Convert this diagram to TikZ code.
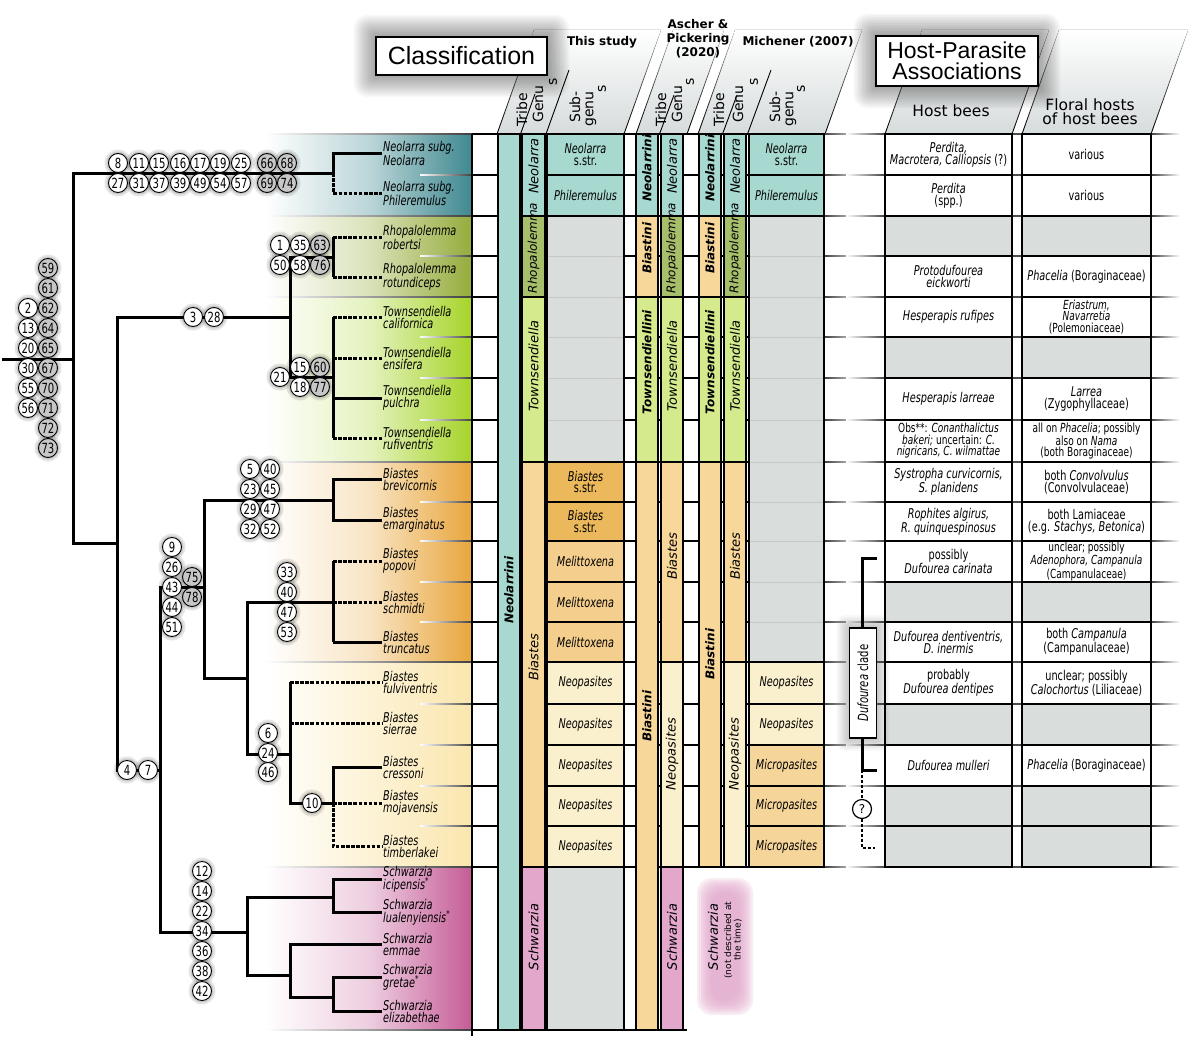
\documentclass[tikz,border=0pt]{standalone}
\usepackage{fontspec}
\setmainfont{DejaVu Sans}
\newfontfamily\cond[FakeStretch=0.72]{DejaVu Sans}
\newfontfamily\arialf{Liberation Sans}
\usetikzlibrary{fadings}
\definecolor{tealC}{HTML}{A8D9D0}
\definecolor{rhoC}{HTML}{A7BE6B}
\definecolor{towC}{HTML}{D4EA8C}
\definecolor{biaC}{HTML}{F7D79A}
\definecolor{bssC}{HTML}{EBB85C}
\definecolor{melC}{HTML}{F4CE8D}
\definecolor{neoC}{HTML}{FBF0CD}
\definecolor{micC}{HTML}{F6D59A}
\definecolor{schC}{HTML}{E2A7CB}
\definecolor{grayC}{HTML}{D9DDDC}
\definecolor{tealB}{HTML}{3F8990}
\definecolor{rhoB}{HTML}{95AC3C}
\definecolor{towB}{HTML}{A6D42A}
\definecolor{biaB}{HTML}{E8A63C}
\definecolor{neoB}{HTML}{FAE6AE}
\definecolor{schB}{HTML}{C55C97}
\definecolor{hdrG}{HTML}{D6DBDB}
\tikzset{
  br/.style={line width=3pt},
  dbr/.style={line width=3pt, dash pattern=on 3.5pt off 1.6pt},
  cw/.style={circle, draw=black, line width=0.9pt, fill=white, minimum size=19pt, inner sep=0pt, font=\cond\fontsize{14}{12}\selectfont},
  cg/.style={cw, fill=black!22},
  sp/.style={anchor=west, inner sep=1pt, align=left, font=\cond\itshape\fontsize{13.5}{12}\selectfont},
  cell/.style={draw=black, line width=1.5pt},
  vt/.style={rotate=90, font=\itshape\fontsize{13}{13}\selectfont, inner sep=0pt},
  vts/.style={vt, font=\itshape\fontsize{12}{12}\selectfont},
  vtb/.style={rotate=90, font=\bfseries\itshape\fontsize{12}{12}\selectfont, inner sep=0pt},
  sg/.style={font=\cond\itshape\fontsize{13.5}{11.5}\selectfont, align=center, inner sep=0pt},
  hc/.style={font=\cond\fontsize{13.5}{12}\selectfont, align=center, inner sep=0pt},
  hs/.style={font=\cond\fontsize{12.5}{11.5}\selectfont, align=center, inner sep=0pt},
  hh/.style={rotate=90, font=\fontsize{14}{13}\selectfont, inner sep=0pt},
  ttl/.style={font=\bfseries\fontsize{12}{14}\selectfont, align=center, inner sep=0pt},
  rowline/.style={line width=1.5pt},
  fadeE/.style={left color=black!75, right color=white},
  fadeW/.style={left color=white, right color=black!75},
  slant/.style={line width=0.9pt},
  tbox/.style={draw=black, line width=1.3pt, fill=white, inner sep=0pt},
}
\newcommand\glowrect[5]{%
  \foreach \g in {1,...,#5}
    \fill[black, opacity=0.028, rounded corners=\g pt] (#1-\g*1.6,#2-\g*1.6) rectangle (#3+\g*1.6,#4+\g*1.6);}
\def\circs{118/163/8/cw,139/163/11/cw,159/163/15/cw,180/163/16/cw,200/163/17/cw,220/163/19/cw,241/163/25/cw,267/163/66/cg,287/163/68/cg,
118/183/27/cw,139/183/31/cw,159/183/37/cw,180/183/39/cw,200/183/49/cw,220/183/54/cw,241/183/57/cw,267/183/69/cg,287/183/74/cg,
28/308/2/cw,28/328/13/cw,28/348/20/cw,28/368/30/cw,28/388/55/cw,28/408/56/cw,
48/268/59/cg,48/288/61/cg,48/308/62/cg,48/328/64/cg,48/348/65/cg,48/368/67/cg,48/388/70/cg,48/408/71/cg,48/428/72/cg,48/448/73/cg,
193/317/3/cw,214/317/28/cw,
280/245/1/cw,300/245/35/cw,320/245/63/cg,280/265/50/cw,300/265/58/cw,320/265/76/cg,
280/377/21/cw,300/367/15/cw,320/367/60/cg,300/387/18/cw,320/387/77/cg,
127/770/4/cw,148/770/7/cw,
172/547/9/cw,172/567/26/cw,172/587/43/cw,172/607/44/cw,172/627/51/cw,192/577/75/cg,192/597/78/cg,
250/469/5/cw,270/469/40/cw,250/489/23/cw,270/489/45/cw,250/509/29/cw,270/509/47/cw,250/529/32/cw,270/529/52/cw,
287/572/33/cw,287/592/40/cw,287/612/47/cw,287/632/53/cw,
268/733/6/cw,268/753/24/cw,268/772/46/cw,
312/803/10/cw,
202/871/12/cw,202/891/14/cw,202/911/22/cw,202/931/34/cw,202/951/36/cw,202/971/38/cw,202/991/42/cw}
\begin{document}
\begin{tikzpicture}[x=1pt,y=-1pt]
\useasboundingbox (0,0) rectangle (1193,1046);
\fill[white] (0,0) rectangle (1193,1046);

% ---------- header parallelograms ----------
\fill[top color=white, bottom color=hdrG] (497,134) -- (624,134) -- (661,30) -- (534,30) -- cycle;
\fill[top color=white, bottom color=hdrG] (636,134) -- (687,134) -- (724,30) -- (673,30) -- cycle;
\fill[top color=white, bottom color=hdrG] (698,134) -- (825,134) -- (862,30) -- (735,30) -- cycle;
\fill[top color=white, bottom color=hdrG] (885,134) -- (1012,134) -- (1049,30) -- (922,30) -- cycle;
\fill[top color=white, bottom color=hdrG] (1022,134) -- (1151,134) -- (1188,30) -- (1059,30) -- cycle;
\foreach \a/\b in {497/534,624/661,636/673,687/724,698/735,825/862,885/922,1012/1049,1022/1059,1151/1188}
  \draw[slant, path fading=north] (\a,134) -- (\b,30);
\draw[slant] (520.5,134) -- (535,94);
\draw[slant] (546,134) -- (569,70);
\draw[slant] (659.5,134) -- (674,95);
\draw[slant] (722.5,134) -- (737,95);
\draw[slant] (747.5,134) -- (771,70);

% ---------- title boxes ----------
\glowrect{376}{37}{547}{75}{14}
\glowrect{876}{36}{1038}{86}{14}
\node[tbox, minimum width=171pt, minimum height=38pt, font=\arialf\fontsize{25}{25}\selectfont] (cls) at (461.5,56) {Classification};
\node[tbox, minimum width=162pt, minimum height=50pt, align=center, font=\arialf\fontsize{23}{21}\selectfont] (hpa) at (957,61) {Host-Parasite\\Associations};
\node[ttl] (tThis) at (602,42) {This study};
\node[ttl] (tAsch) at (698,39) {Ascher \&\\Pickering\\(2020)};
\node[ttl] (tMich) at (798,42) {Michener (2007)};

\node[hh] (hT1) at (522,110) {Tribe};
\node[hh] (hG1) at (538,104) {Genu};
\node[hh] (hG1s) at (553,82) {s};
\node[hh] (hS1) at (575,107) {Sub-};
\node[hh] (hS1b) at (591,109) {genu};
\node[hh] (hS1s) at (602,89) {s};
\node[hh] (hT2) at (661,110) {Tribe};
\node[hh] (hG2) at (677,104) {Genu};
\node[hh] (hG2s) at (690,82) {s};
\node[hh] (hT3) at (719,110) {Tribe};
\node[hh] (hG3) at (738,104) {Genu};
\node[hh] (hG3s) at (754,82) {s};
\node[hh] (hS3) at (775,107) {Sub-};
\node[hh] (hS3b) at (791,109) {genu};
\node[hh] (hS3s) at (801,89) {s};
\node[font=\fontsize{15.5}{15}\selectfont, inner sep=0pt] (hHost) at (951,111) {Host bees};
\node[font=\fontsize{15.5}{14}\selectfont, align=center, inner sep=0pt] (hFlor) at (1090,112) {Floral hosts\\of host bees};

% ---------- colour bands behind species ----------
\fill[left color=white, right color=tealB, middle color=tealB!35] (265,134) rectangle (472,216);
\fill[left color=white, right color=rhoB, middle color=rhoB!35] (265,216) rectangle (472,297);
\fill[left color=white, right color=towB, middle color=towB!30] (265,297) rectangle (472,462);
\fill[left color=white, right color=biaB, middle color=biaB!30] (265,462) rectangle (472,662);
\fill[left color=white, right color=neoB, middle color=neoB!50] (265,662) rectangle (472,867);
\fill[left color=white, right color=schB, middle color=schB!30] (265,867) rectangle (472,1030);
\foreach \y in {134,216,297,462,662,867,1030}
  \fill[fadeW] (265,\y-0.6) rectangle (472,\y+0.6);
\foreach \y in {175,256,337,378,420,502,541,582,622,704,745,786,826}
  \fill[fadeW] (420,\y-0.6) rectangle (472,\y+0.6);

% ---------- table rows ----------
\foreach \y in {134,175,216,256,297,337,378,420,462,502,541,582,622,662,704,745,786,826,867}{
  \draw[rowline] (472,\y) -- (824,\y);
  \fill[fadeE] (824,\y-0.6) rectangle (866,\y+0.6);
  \fill[fadeW] (846,\y-0.6) rectangle (885,\y+0.6);
  \fill[black!70] (1012,\y-0.6) rectangle (1022,\y+0.6);
  \fill[fadeE] (1151,\y-0.6) rectangle (1180,\y+0.6);
}
\draw[rowline] (472,1030) -- (687,1030);
\draw[line width=2pt] (472,134) -- (472,1036);

% This study
\draw[cell, fill=tealC] (498,134) rectangle (520,1030);
\draw[cell, fill=tealC] (522,134) rectangle (545,216);
\draw[cell, fill=rhoC] (522,216) rectangle (545,297);
\draw[cell, fill=towC] (522,297) rectangle (545,462);
\draw[cell, fill=biaC] (522,462) rectangle (545,867);
\draw[cell, fill=schC] (522,867) rectangle (545,1030);
\draw[cell, fill=tealC] (547,134) rectangle (624,175);
\draw[cell, fill=tealC] (547,175) rectangle (624,216);
\draw[cell, fill=grayC] (547,216) rectangle (624,462);
\foreach \y in {256,297,337,378,420} \draw[line width=1pt, black!22] (548,\y) -- (623,\y);
\draw[cell, fill=bssC] (547,462) rectangle (624,502);
\draw[cell, fill=bssC] (547,502) rectangle (624,541);
\foreach \t/\b in {541/582,582/622,622/662} \draw[cell, fill=melC] (547,\t) rectangle (624,\b);
\foreach \t/\b in {662/704,704/745,745/786,786/826,826/867} \draw[cell, fill=neoC] (547,\t) rectangle (624,\b);
\draw[cell, fill=grayC] (547,867) rectangle (624,1030);

% Ascher & Pickering
\draw[cell, fill=tealC] (636,134) rectangle (658,216);
\draw[cell, fill=biaC] (636,216) rectangle (658,297);
\draw[cell, fill=towC] (636,297) rectangle (658,462);
\draw[cell, fill=biaC] (636,462) rectangle (658,1030);
\draw[cell, fill=tealC] (661,134) rectangle (683,216);
\draw[cell, fill=rhoC] (661,216) rectangle (683,297);
\draw[cell, fill=towC] (661,297) rectangle (683,462);
\draw[cell, fill=biaC] (661,462) rectangle (683,662);
\draw[cell, fill=neoC] (661,662) rectangle (683,867);
\draw[cell, fill=schC] (661,867) rectangle (683,1030);

% Michener
\draw[cell, fill=tealC] (699,134) rectangle (721,216);
\draw[cell, fill=biaC] (699,216) rectangle (721,297);
\draw[cell, fill=towC] (699,297) rectangle (721,462);
\draw[cell, fill=biaC] (699,462) rectangle (721,867);
\draw[cell, fill=tealC] (724,134) rectangle (746,216);
\draw[cell, fill=rhoC] (724,216) rectangle (746,297);
\draw[cell, fill=towC] (724,297) rectangle (746,462);
\draw[cell, fill=biaC] (724,462) rectangle (746,662);
\draw[cell, fill=neoC] (724,662) rectangle (746,867);
\draw[cell, fill=tealC] (749,134) rectangle (824,175);
\draw[cell, fill=tealC] (749,175) rectangle (824,216);
\fill[grayC] (749,216) rectangle (824,662);
\foreach \y in {256,297,337,378,420,462,502,541,582,622} \draw[line width=1pt, black!22] (750,\y) -- (823,\y);
\draw[cell] (749,216) rectangle (824,662);
\draw[cell, fill=neoC] (749,662) rectangle (824,704);
\draw[cell, fill=neoC] (749,704) rectangle (824,745);
\foreach \t/\b in {745/786,786/826,826/867} \draw[cell, fill=micC] (749,\t) rectangle (824,\b);

% column texts
\node[vtb] (tsT) at (509,590) {Neolarrini};
\node[vt] (tsG1) at (533.5,166) {Neolarra};
\node[vts] (tsG2) at (533.5,248) {Rhopalolemma};
\node[vt] (tsG3) at (533.5,366) {Townsendiella};
\node[vt] (tsG4) at (533.5,657) {Biastes};
\node[vt] (tsG5) at (533.5,937) {Schwarzia};
\node[sg] (s1) at (585.5,154.5) {Neolarra\\\upshape s.str.};
\node[sg] (s2) at (585.5,195.5) {Phileremulus};
\node[sg] (s9) at (585.5,482) {Biastes\\\upshape s.str.};
\node[sg] (s10) at (585.5,521.5) {Biastes\\\upshape s.str.};
\foreach \y/\n in {561.5/a,602/b,642/c} \node[sg] (smel\n) at (585.5,\y) {Melittoxena};
\foreach \y/\n in {683/a,724.5/b,765.5/c,806/d,846.5/e} \node[sg] (sneo\n) at (585.5,\y) {Neopasites};

\node[vtb] (aT1) at (647,168) {Neolarrini};
\node[vtb] (aT2) at (647,248) {Biastini};
\node[vtb] (aT3) at (647,362) {Townsendiellini};
\node[vtb] (aT4) at (647,716) {Biastini};
\node[vt] (aG1) at (672,166) {Neolarra};
\node[vts] (aG2) at (672,248) {Rhopalolemma};
\node[vt] (aG3) at (672,366) {Townsendiella};
\node[vt] (aG4) at (672,556) {Biastes};
\node[vt] (aG5) at (672,754) {Neopasites};
\node[vt] (aG6) at (672,937) {Schwarzia};

\node[vtb] (mT1) at (710,168) {Neolarrini};
\node[vtb] (mT2) at (710,248) {Biastini};
\node[vtb] (mT3) at (710,362) {Townsendiellini};
\node[vtb] (mT4) at (710,654) {Biastini};
\node[vt] (mG1) at (735,166) {Neolarra};
\node[vts] (mG2) at (735,248) {Rhopalolemma};
\node[vt] (mG3) at (735,366) {Townsendiella};
\node[vt] (mG4) at (735,556) {Biastes};
\node[vt] (mG5) at (735,754) {Neopasites};
\node[sg] (ms1) at (786.5,154.5) {Neolarra\\\upshape s.str.};
\node[sg] (ms2) at (786.5,195.5) {Phileremulus};
\node[sg] (ms14) at (786.5,683) {Neopasites};
\node[sg] (ms15) at (786.5,724.5) {Neopasites};
\node[sg] (ms16) at (786.5,765.5) {Micropasites};
\node[sg] (ms17) at (786.5,806) {Micropasites};
\node[sg] (ms18) at (786.5,846.5) {Micropasites};

% Schwarzia in Michener (not described)
\foreach \i in {0,...,7}
  \fill[schC, opacity=0.2, rounded corners=15pt] (697+\i*2,878+\i*2) rectangle (753-\i*2,1015-\i*2);
\node[rotate=90, font=\itshape\fontsize{13}{13}\selectfont, inner sep=0pt] (msch) at (713,937) {Schwarzia};
\node[rotate=90, font=\fontsize{9}{9.5}\selectfont, align=center, inner sep=0pt] (mschn) at (733,940) {(not described at\\the time)};

% ---------- host columns ----------
\foreach \t/\b/\f in {134/175/white,175/216/white,216/256/grayC,256/297/white,297/337/white,337/378/grayC,378/420/white,420/462/white,462/502/white,502/541/white,541/582/white,582/622/grayC,622/662/white,662/704/white,704/745/grayC,745/786/white,786/826/grayC,826/867/grayC}{
  \draw[cell, fill=\f] (885,\t) rectangle (1012,\b);
  \draw[cell, fill=\f] (1022,\t) rectangle (1151,\b);
}
\node[hc] (h1a) at (948.5,154.5) {\textit{Perdita,}\\\textit{Macrotera, Calliopsis} (?)};
\node[hc] (h1b) at (1086.5,154.5) {various};
\node[hc] (h2a) at (948.5,195.5) {\textit{Perdita}\\(spp.)};
\node[hc] (h2b) at (1086.5,195.5) {various};
\node[hc] (h4a) at (948.5,276.5) {\textit{Protodufourea}\\\textit{eickworti}};
\node[hc] (h4b) at (1086.5,276.5) {\textit{Phacelia} (Boraginaceae)};
\node[hc] (h5a) at (948.5,317) {\textit{Hesperapis rufipes}};
\node[hs] (h5b) at (1086.5,317) {\textit{Eriastrum,}\\\textit{Navarretia}\\(Polemoniaceae)};
\node[hc] (h7a) at (948.5,399) {\textit{Hesperapis larreae}};
\node[hc] (h7b) at (1086.5,399) {\textit{Larrea}\\(Zygophyllaceae)};
\node[hs] (h8a) at (948.5,441) {Obs**: \textit{Conanthalictus}\\\textit{bakeri;} uncertain: \textit{C.}\\\textit{nigricans, C. wilmattae}};
\node[hs] (h8b) at (1086.5,441) {all on \textit{Phacelia}; possibly\\also on \textit{Nama}\\(both Boraginaceae)};
\node[hc] (h9a) at (948.5,482) {\textit{Systropha curvicornis,}\\\textit{S. planidens}};
\node[hc] (h9b) at (1086.5,482) {both \textit{Convolvulus}\\(Convolvulaceae)};
\node[hc] (h10a) at (948.5,521.5) {\textit{Rophites algirus,}\\\textit{R. quinquespinosus}};
\node[hc] (h10b) at (1086.5,521.5) {both Lamiaceae\\(e.g. \textit{Stachys, Betonica})};
\node[hc] (h11a) at (948.5,561.5) {possibly\\\textit{Dufourea carinata}};
\node[hs] (h11b) at (1086.5,561.5) {unclear; possibly\\\textit{Adenophora, Campanula}\\(Campanulaceae)};
\node[hc] (h13a) at (948.5,642) {\textit{Dufourea dentiventris,}\\\textit{D. inermis}};
\node[hc] (h13b) at (1086.5,642) {both \textit{Campanula}\\(Campanulaceae)};
\node[hc] (h14a) at (948.5,683) {probably\\\textit{Dufourea dentipes}};
\node[hc] (h14b) at (1086.5,683) {unclear; possibly\\\textit{Calochortus} (Liliaceae)};
\node[hc] (h16a) at (948.5,765.5) {\textit{Dufourea mulleri}};
\node[hc] (h16b) at (1086.5,765.5) {\textit{Phacelia} (Boraginaceae)};

% Dufourea clade bracket
\coordinate (dTop) at (877,558);
\coordinate (dBot) at (877,770);
\draw[line width=3pt] (dTop) -- (862,558) -- (862,770) -- (dBot);
\glowrect{849.5}{628}{876.5}{738}{8}
\node[tbox, rotate=90, minimum width=110pt, minimum height=27pt, font=\cond\fontsize{14}{13}\selectfont] (dcl) at (863,683) {\textit{Dufourea} clade};
\node[cw, line width=1.2pt, font=\fontsize{12}{12}\selectfont] (qm) at (862,809) {?};
\coordinate (dEnd) at (875,848);
\draw[line width=2.4pt, dash pattern=on 3pt off 2pt] (862,770) -- (qm.north);
\draw[line width=2.4pt, dash pattern=on 3pt off 2pt] (qm.south) -- (862,848) -- (dEnd);

% ---------- species labels ----------
\node[sp] (neo) at (382,153) {Neolarra subg.\\Neolarra};
\node[sp] (phi) at (382,193) {Neolarra subg.\\Phileremulus};
\node[sp] (rob) at (382,237) {Rhopalolemma\\robertsi};
\node[sp] (rot) at (382,277) {Rhopalolemma\\rotundiceps};
\node[sp] (cal) at (382,317) {Townsendiella\\californica};
\node[sp] (ens) at (382,358) {Townsendiella\\ensifera};
\node[sp] (pul) at (382,398) {Townsendiella\\pulchra};
\node[sp] (ruf) at (382,438) {Townsendiella\\rufiventris};
\node[sp] (bre) at (382,479) {Biastes\\brevicornis};
\node[sp] (ema) at (382,520) {Biastes\\emarginatus};
\node[sp] (pop) at (382,561) {Biastes\\popovi};
\node[sp] (sch) at (382,602) {Biastes\\schmidti};
\node[sp] (tru) at (382,642) {Biastes\\truncatus};
\node[sp] (ful) at (382,682) {Biastes\\fulviventris};
\node[sp] (sie) at (382,723) {Biastes\\sierrae};
\node[sp] (cre) at (382,767) {Biastes\\cressoni};
\node[sp] (moj) at (382,803) {Biastes\\mojavensis};
\node[sp] (tim) at (382,846) {Biastes\\timberlakei};
\node[sp] (ici) at (382,879) {Schwarzia\\icipensis\textsuperscript{*}};
\node[sp] (lua) at (382,912) {Schwarzia\\lualenyiensis\textsuperscript{*}};
\node[sp] (emm) at (382,944) {Schwarzia\\emmae};
\node[sp] (gre) at (382,977) {Schwarzia\\gretae\textsuperscript{*}};
\node[sp] (eli) at (382,1011) {Schwarzia\\elizabethae};

% ---------- tree ----------
\coordinate (r0) at (2,359);
\coordinate (nA) at (73,359);
\coordinate (nNeo) at (333,173);
\coordinate (nB) at (117,543);
\coordinate (nC) at (290,317);
\coordinate (nRho) at (333,257);
\coordinate (nTow) at (333,377);
\coordinate (nD) at (160,770);
\coordinate (nE) at (204,587);
\coordinate (nBss) at (333,500);
\coordinate (nF) at (247,678);
\coordinate (nMel) at (333,602);
\coordinate (nG) at (290,754);
\coordinate (nH) at (333,803);
\coordinate (nS) at (247,932);
\coordinate (nS1) at (333,897);
\coordinate (nS2) at (290,975);
\coordinate (nS3) at (333,997);

\draw[br] (r0) -- (nA);
\draw[br] (nA) |- (nNeo);
\draw[br] (nA) |- (nB);
\draw[br] (nNeo) |- (neo.west);
\draw[dbr] (nNeo) |- (phi.west);
\draw[br] (nB) |- (nC);
\draw[br] (nB) |- (nD);
\draw[br] (nC) |- (nRho);
\draw[br] (nC) |- (nTow);
\draw[br] (nRho |- rob.west) -- (nRho |- rot.west);
\draw[dbr] (nRho |- rob.west) -- (rob.west);
\draw[dbr] (nRho |- rot.west) -- (rot.west);
\draw[br] (nTow |- cal.west) -- (nTow |- ruf.west);
\draw[dbr] (nTow |- cal.west) -- (cal.west);
\draw[dbr] (nTow |- ens.west) -- (ens.west);
\draw[br] (nTow |- pul.west) -- (pul.west);
\draw[dbr] (nTow |- ruf.west) -- (ruf.west);
\draw[br] (nD) |- (nE);
\draw[br] (nD) |- (nS);
\draw[br] (nE) |- (nBss);
\draw[br] (nE) |- (nF);
\draw[br] (nBss) |- (bre.west);
\draw[br] (nBss) |- (ema.west);
\draw[br] (nF) |- (nMel);
\draw[br] (nF) |- (nG);
\draw[br] (nMel |- pop.west) -- (nMel |- tru.west);
\draw[dbr] (nMel |- pop.west) -- (pop.west);
\draw[dbr] (nMel |- sch.west) -- (sch.west);
\draw[br] (nMel |- tru.west) -- (tru.west);
\draw[br] (nG |- ful.west) -- (nG);
\draw[dbr] (nG |- ful.west) -- (ful.west);
\draw[dbr] (nG |- sie.west) -- (sie.west);
\draw[br] (nG) |- (nH);
\draw[br] (nH) |- (cre.west);
\draw[dbr] (nH) -- (moj.west);
\draw[dbr] (nH) |- (tim.west);
\draw[br] (nS) |- (nS1);
\draw[br] (nS) |- (nS2);
\draw[br] (nS1) |- (ici.west);
\draw[br] (nS1) |- (lua.west);
\draw[br] (nS2) |- (emm.west);
\draw[br] (nS2) |- (nS3);
\draw[br] (nS3) |- (gre.west);
\draw[br] (nS3) |- (eli.west);

% ---------- character circles ----------
\foreach \x/\y/\t/\s in \circs {
  \fill[black, opacity=0.10] (\x,\y) circle (13.5pt);
  \fill[black, opacity=0.12] (\x,\y) circle (11.5pt);
}
\foreach \x/\y/\t/\s in \circs
  \node[\s] (k\x-\y) at (\x,\y) {\t};
\end{tikzpicture}
\end{document}
